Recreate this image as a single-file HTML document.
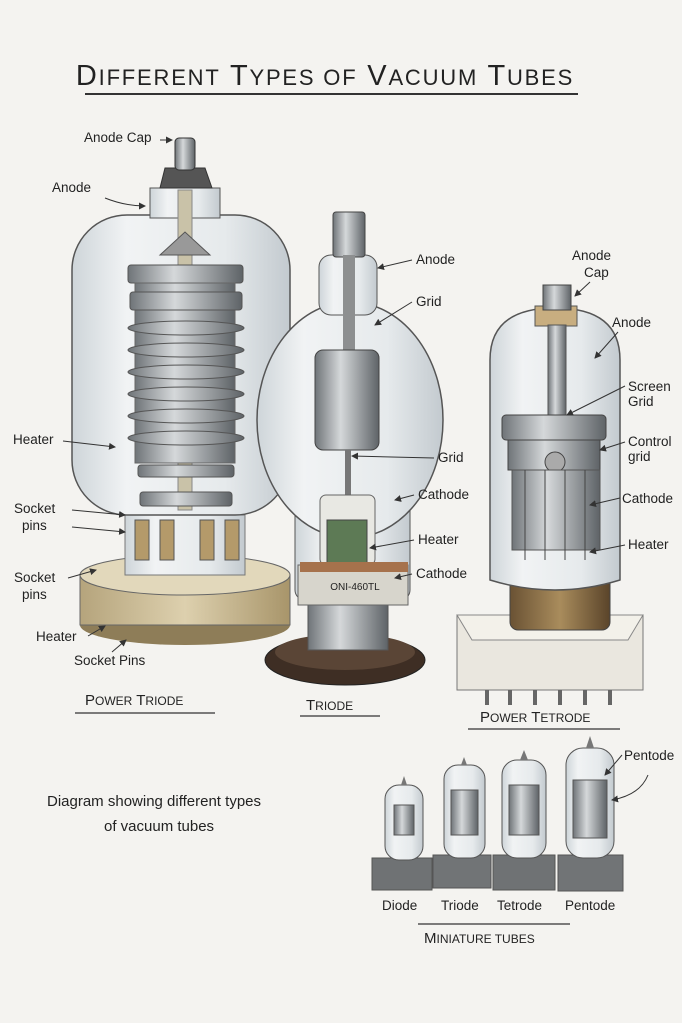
<!DOCTYPE html>
<html><head><meta charset="utf-8"><style>
html,body{margin:0;padding:0;background:#f4f3f0}
svg{display:block}
text{font-family:"Liberation Sans",sans-serif;fill:#222}
</style></head><body>
<svg width="682" height="1023" viewBox="0 0 682 1023" xmlns="http://www.w3.org/2000/svg">
<defs>
<linearGradient id="glass" x1="0" x2="1"><stop offset="0" stop-color="#ced5d9"/><stop offset=".25" stop-color="#f1f3f4"/><stop offset=".7" stop-color="#e6eaec"/><stop offset="1" stop-color="#c3cacf"/></linearGradient>
<linearGradient id="metal" x1="0" x2="1"><stop offset="0" stop-color="#6f7478"/><stop offset=".4" stop-color="#d5d8da"/><stop offset="1" stop-color="#5e6367"/></linearGradient>
<linearGradient id="tan" x1="0" x2="1"><stop offset="0" stop-color="#b5a47c"/><stop offset=".5" stop-color="#ddd0ae"/><stop offset="1" stop-color="#a8956a"/></linearGradient>
<linearGradient id="brass" x1="0" x2="1"><stop offset="0" stop-color="#6a5234"/><stop offset=".5" stop-color="#a98c5c"/><stop offset="1" stop-color="#5a442a"/></linearGradient>
<marker id="ar" markerWidth="7" markerHeight="7" refX="6" refY="3.5" orient="auto"><path d="M0,0 L7,3.5 L0,7 z" fill="#333"/></marker>
</defs>
<rect width="682" height="1023" fill="#f4f3f0"/>

<text x="325" y="85" text-anchor="middle" font-size="29" letter-spacing="1.8">D<tspan font-size="22">IFFERENT</tspan> T<tspan font-size="22">YPES OF</tspan> V<tspan font-size="22">ACUUM</tspan> T<tspan font-size="22">UBES</tspan></text>
<line x1="85" y1="94" x2="578" y2="94" stroke="#333" stroke-width="2"/>

<!-- POWER TRIODE -->
<ellipse cx="185" cy="625" rx="105" ry="20" fill="#8e7d58"/>
<rect x="80" y="575" width="210" height="50" fill="url(#tan)" stroke="#666"/>
<ellipse cx="185" cy="575" rx="105" ry="20" fill="#e2d8bb" stroke="#666"/>
<rect x="125" y="515" width="120" height="60" fill="url(#glass)" stroke="#777"/>
<g fill="#b49a6a" stroke="#555"><rect x="135" y="520" width="14" height="40"/><rect x="160" y="520" width="14" height="40"/><rect x="200" y="520" width="14" height="40"/><rect x="225" y="520" width="14" height="40"/></g>
<rect x="72" y="215" width="218" height="300" rx="55" fill="url(#glass)" stroke="#555" stroke-width="1.5"/>
<rect x="150" y="188" width="70" height="30" fill="url(#glass)" stroke="#555"/>
<path d="M160,188 L165,168 L205,168 L212,188 Z" fill="#555" stroke="#333"/>
<rect x="175" y="138" width="20" height="32" rx="4" fill="url(#metal)" stroke="#333"/>
<rect x="178" y="190" width="14" height="320" fill="#c9c2a8" stroke="#888"/>
<path d="M160,255 L185,232 L210,255 Z" fill="#999" stroke="#555"/>
<rect x="128" y="265" width="115" height="18" rx="3" fill="url(#metal)" stroke="#555"/>
<rect x="135" y="283" width="100" height="180" fill="url(#metal)" stroke="#666"/>
<g fill="url(#metal)" stroke="#555">
<rect x="130" y="292" width="112" height="18" rx="3"/>
<ellipse cx="186" cy="328" rx="58" ry="7"/><ellipse cx="186" cy="350" rx="58" ry="7"/><ellipse cx="186" cy="372" rx="58" ry="7"/><ellipse cx="186" cy="394" rx="58" ry="7"/><ellipse cx="186" cy="416" rx="58" ry="7"/><ellipse cx="186" cy="438" rx="58" ry="7"/>
<rect x="138" y="465" width="96" height="12" rx="3"/><rect x="140" y="492" width="92" height="14" rx="3"/>
</g>

<!-- TRIODE -->
<ellipse cx="345" cy="660" rx="80" ry="25" fill="#3e2e24" stroke="#222"/>
<ellipse cx="345" cy="652" rx="70" ry="18" fill="#5a4536"/>
<rect x="308" y="595" width="80" height="55" fill="url(#metal)" stroke="#555"/>
<rect x="295" y="480" width="115" height="120" rx="10" fill="url(#glass)" stroke="#555"/>
<rect x="298" y="565" width="110" height="40" fill="#d7d5cc" stroke="#666"/>
<text x="355" y="590" text-anchor="middle" font-size="10">ONI-460TL</text>
<ellipse cx="350" cy="420" rx="93" ry="118" fill="url(#glass)" stroke="#555" stroke-width="1.5"/>
<rect x="319" y="255" width="58" height="60" rx="12" fill="url(#glass)" stroke="#555"/>
<rect x="333" y="212" width="32" height="45" rx="3" fill="url(#metal)" stroke="#444"/>
<rect x="343" y="255" width="12" height="100" fill="#8d8f90"/>
<rect x="315" y="350" width="64" height="100" rx="8" fill="url(#metal)" stroke="#444"/>
<rect x="345" y="450" width="6" height="50" fill="#777"/>
<rect x="320" y="495" width="55" height="70" rx="6" fill="#e8e8e3" stroke="#666"/>
<rect x="327" y="520" width="40" height="45" fill="#5d7a55" stroke="#444"/>
<rect x="300" y="562" width="108" height="10" fill="#a6724c"/>

<!-- POWER TETRODE -->
<rect x="457" y="615" width="186" height="75" fill="#eae7df" stroke="#777"/>
<path d="M457,615 L643,615 L628,640 L472,640 Z" fill="#f3f1ea" stroke="#888"/>
<g stroke="#666" stroke-width="4"><line x1="487" y1="690" x2="487" y2="705"/><line x1="510" y1="690" x2="510" y2="705"/><line x1="535" y1="690" x2="535" y2="705"/><line x1="560" y1="690" x2="560" y2="705"/><line x1="585" y1="690" x2="585" y2="705"/><line x1="610" y1="690" x2="610" y2="705"/></g>
<rect x="510" y="565" width="100" height="65" rx="8" fill="url(#brass)" stroke="#444"/>
<path d="M490,360 Q490,308 555,308 Q620,308 620,360 L620,580 Q555,600 490,580 Z" fill="url(#glass)" stroke="#555" stroke-width="1.5"/>
<rect x="535" y="306" width="42" height="20" fill="#c8ae80" stroke="#555"/>
<rect x="543" y="285" width="28" height="25" fill="url(#metal)" stroke="#444"/>
<rect x="548" y="325" width="18" height="90" fill="url(#metal)" stroke="#555"/>
<rect x="502" y="415" width="104" height="25" rx="4" fill="url(#metal)" stroke="#444"/>
<rect x="508" y="440" width="92" height="30" fill="url(#metal)" stroke="#444"/>
<circle cx="555" cy="462" r="10" fill="#aaa" stroke="#444"/>
<rect x="512" y="470" width="88" height="80" fill="url(#metal)" stroke="#555"/>
<g stroke="#444"><line x1="525" y1="470" x2="525" y2="560"/><line x1="545" y1="470" x2="545" y2="560"/><line x1="565" y1="470" x2="565" y2="560"/><line x1="585" y1="470" x2="585" y2="560"/></g>

<!-- Miniature tubes -->
<g stroke="#555">
<rect x="372" y="858" width="60" height="32" fill="#6f7274"/>
<rect x="433" y="855" width="58" height="33" fill="#717476"/>
<rect x="493" y="855" width="62" height="35" fill="#6f7274"/>
<rect x="558" y="855" width="65" height="36" fill="#717476"/>
<rect x="385" y="785" width="38" height="75" rx="14" fill="url(#glass)"/>
<rect x="444" y="765" width="41" height="93" rx="14" fill="url(#glass)"/>
<rect x="502" y="760" width="44" height="98" rx="15" fill="url(#glass)"/>
<rect x="566" y="748" width="48" height="110" rx="17" fill="url(#glass)"/>
<rect x="394" y="805" width="20" height="30" fill="url(#metal)"/>
<rect x="451" y="790" width="27" height="45" fill="url(#metal)"/>
<rect x="509" y="785" width="30" height="50" fill="url(#metal)"/>
<rect x="573" y="780" width="34" height="58" fill="url(#metal)"/>
</g>
<g fill="#777"><path d="M401,785 L404,776 L407,785Z"/><path d="M461,765 L464,757 L467,765Z"/><path d="M520,760 L524,750 L528,760Z"/><path d="M586,748 L590,736 L594,748Z"/></g>

<g font-size="13.5">
<text x="84" y="142">Anode Cap</text>
<text x="52" y="192">Anode</text>
<text x="13" y="444">Heater</text>
<text x="14" y="513">Socket</text><text x="22" y="530">pins</text>
<text x="14" y="582">Socket</text><text x="22" y="599">pins</text>
<text x="36" y="641">Heater</text>
<text x="74" y="665">Socket Pins</text>
<text x="416" y="264">Anode</text>
<text x="416" y="306">Grid</text>
<text x="438" y="462">Grid</text>
<text x="418" y="499">Cathode</text>
<text x="418" y="544">Heater</text>
<text x="416" y="578">Cathode</text>
<text x="572" y="260">Anode</text><text x="584" y="277">Cap</text>
<text x="612" y="327">Anode</text>
<text x="628" y="391">Screen</text><text x="628" y="406">Grid</text>
<text x="628" y="446">Control</text><text x="628" y="461">grid</text>
<text x="622" y="503">Cathode</text>
<text x="628" y="549">Heater</text>
<text x="624" y="760">Pentode</text>
<text x="47" y="806" font-size="15">Diagram showing different  types</text>
<text x="104" y="831" font-size="15">of vacuum tubes</text>
<text x="382" y="910">Diode</text><text x="441" y="910">Triode</text><text x="497" y="910">Tetrode</text><text x="565" y="910">Pentode</text>
</g>
<g font-size="15">
<text x="85" y="705">P<tspan font-size="12">OWER</tspan> T<tspan font-size="12">RIODE</tspan></text>
<text x="306" y="710">T<tspan font-size="12">RIODE</tspan></text>
<text x="480" y="722">P<tspan font-size="12">OWER</tspan> T<tspan font-size="12">ETRODE</tspan></text>
<text x="424" y="943">M<tspan font-size="12">INIATURE TUBES</tspan></text>
</g>
<g stroke="#333" stroke-width="1.3">
<line x1="75" y1="713" x2="215" y2="713"/><line x1="300" y1="716" x2="380" y2="716"/><line x1="468" y1="729" x2="620" y2="729"/><line x1="418" y1="924" x2="570" y2="924"/>
</g>
<g stroke="#333" stroke-width="1" fill="none" marker-end="url(#ar)">
<path d="M160,140 L172,140"/>
<path d="M105,198 Q125,206 145,206"/>
<path d="M63,441 L115,447"/>
<path d="M72,510 L125,515"/>
<path d="M72,527 L125,532"/>
<path d="M68,578 L96,570"/>
<path d="M88,636 L105,626"/>
<path d="M112,652 L126,640"/>
<path d="M412,260 L378,268"/>
<path d="M412,302 L375,325"/>
<path d="M434,458 L352,456"/>
<path d="M414,495 L395,500"/>
<path d="M414,540 L370,548"/>
<path d="M412,574 L395,578"/>
<path d="M590,282 L575,296"/>
<path d="M618,332 L595,358"/>
<path d="M625,386 L567,415"/>
<path d="M625,442 L600,450"/>
<path d="M620,498 L590,505"/>
<path d="M625,545 L590,552"/>
<path d="M622,755 L605,775"/>
<path d="M648,775 Q640,795 612,800"/>
</g>
</svg>
</body></html>
